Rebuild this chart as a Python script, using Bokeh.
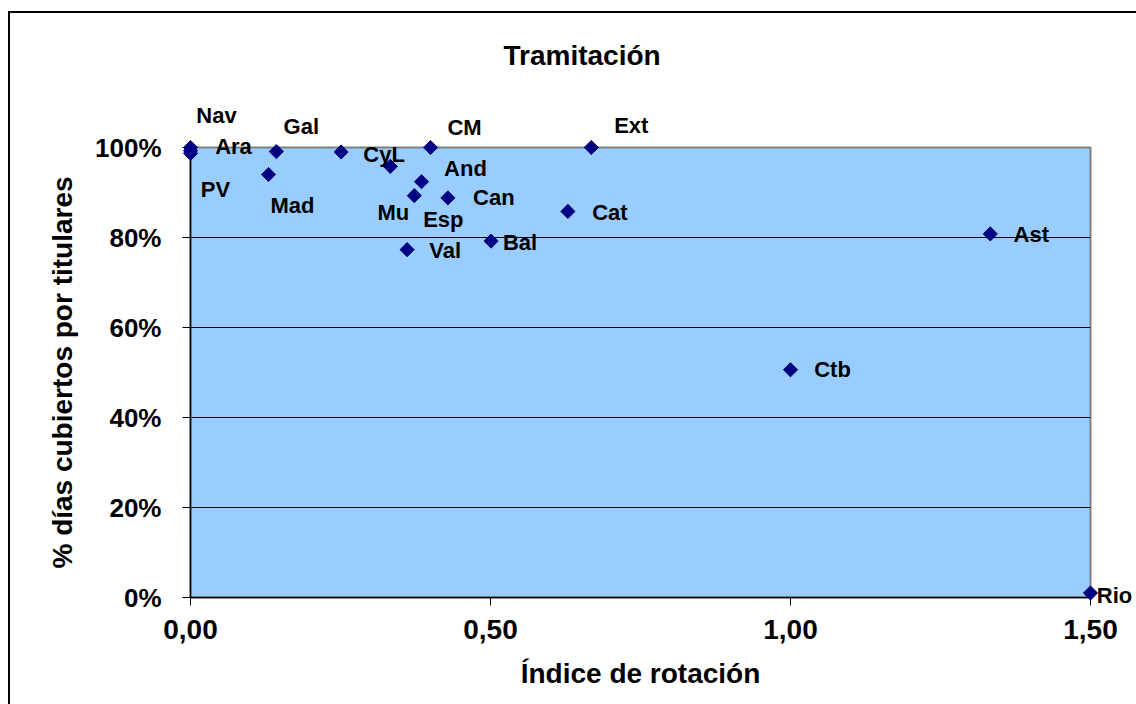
import numpy as np
from bokeh.plotting import figure
from bokeh.models import ColumnDataSource, FixedTicker, Range1d, Title
from bokeh.core.properties import value
from bokeh.embed import file_html
from bokeh.resources import INLINE

# ---- data ----
regions = ["Nav", "Ara", "PV", "Gal", "Mad", "CyL", "CM", "And", "Mu", "Esp",
           "Can", "Cat", "Ext", "Val", "Bal", "Ast", "Ctb", "Rio"]
rotation = [0.00, 0.00, 0.00, 0.143, 0.13, 0.251, 0.40, 0.385, 0.333, 0.373,
            0.429, 0.629, 0.668, 0.361, 0.501, 1.333, 1.00, 1.50]
coverage = [1.00, 0.993, 0.987, 0.991, 0.94, 0.99, 1.00, 0.924, 0.958, 0.893,
            0.888, 0.858, 1.00, 0.773, 0.792, 0.808, 0.506, 0.01]

x_ticks = [0.0, 0.5, 1.0, 1.5]
x_tick_labels = ["0,00", "0,50", "1,00", "1,50"]
y_ticks = [0.0, 0.2, 0.4, 0.6, 0.8, 1.0]
y_tick_labels = ["0%", "20%", "40%", "60%", "80%", "100%"]

# label placement (screen pixels, down positive; styling only)
label_dx = [26, 43, 25, 25, 24, 43, 34, 44, 3, 29, 46, 42, 40, 38, 29, 41, 42, 24]
label_dy = [-32, -4, 36, -25, 31, 2, -20, -13, 46, 24, 0, 1, -22, 1, 1, 1, 0, 2]

FONT = "Liberation Sans"

src = ColumnDataSource(dict(x=rotation, y=coverage, name=regions, dx=label_dx, dy=label_dy))

p = figure(frame_width=900, frame_height=450,
           x_range=Range1d(0, 1.5), y_range=Range1d(0, 1),
           output_backend="svg", toolbar_location=None,
           min_border_left=180, min_border_right=46,
           min_border_top=134, min_border_bottom=107)
p.styles = {"margin-top": "11px", "margin-left": "8px",
            "border-left": "2px solid black", "border-top": "2px solid black"}

p.title = Title(text="Tramitación", align="left", offset=313, standoff=0,
                padding=dict(top=0, right=0, bottom=77, left=0),
                text_font=FONT, text_font_size="28px", text_font_style="bold",
                text_color="black")

p.background_fill_color = "#99CCFF"
p.border_fill_color = "white"
p.outline_line_color = "#808080"
p.outline_line_width = 2

# axes
for ax in (p.xaxis[0], p.yaxis[0]):
    ax.axis_line_color = "black"
    ax.axis_line_width = 1.5
    ax.major_tick_line_color = "black"
    ax.major_tick_out = 8
    ax.major_tick_in = 0
    ax.minor_tick_line_color = None
    ax.major_label_text_font = FONT
    ax.major_label_text_font_style = "bold"
    ax.major_label_text_color = "black"
    ax.axis_label_text_font = FONT
    ax.axis_label_text_font_style = "bold"
    ax.axis_label_text_font_size = "28px"
    ax.axis_label_text_color = "black"

p.xaxis.ticker = FixedTicker(ticks=x_ticks)
p.xaxis.major_label_overrides = dict(zip(x_ticks, x_tick_labels))
p.xaxis.major_label_text_font_size = "28px"
p.xaxis.major_label_standoff = 14
p.xaxis.axis_label = "Índice de rotación"
p.xaxis.axis_label_standoff = 16

p.yaxis.ticker = FixedTicker(ticks=y_ticks)
p.yaxis.major_label_overrides = dict(zip(y_ticks, y_tick_labels))
p.yaxis.major_label_text_font_size = "26px"
p.yaxis.major_label_standoff = 21
p.yaxis.axis_label = "% días cubiertos por titulares"
p.yaxis.axis_label_standoff = 14

p.xgrid.visible = False
p.ygrid.ticker = FixedTicker(ticks=[0.2, 0.4, 0.6, 0.8])
p.ygrid.grid_line_color = "black"
p.ygrid.grid_line_width = 1

r = p.scatter(x="x", y="y", source=src, marker="square", angle=np.pi / 4, size=10,
              fill_color="#000080", line_color="#000080")
r.level = "overlay"

t = p.text(x="x", y="y", text="name", x_offset="dx", y_offset="dy", source=src,
           text_align="center", text_baseline="middle",
           text_font=value(FONT), text_font_size="22px", text_font_style="bold",
           text_color="black")
t.level = "overlay"

open("out.html", "w").write(file_html(p, INLINE))
